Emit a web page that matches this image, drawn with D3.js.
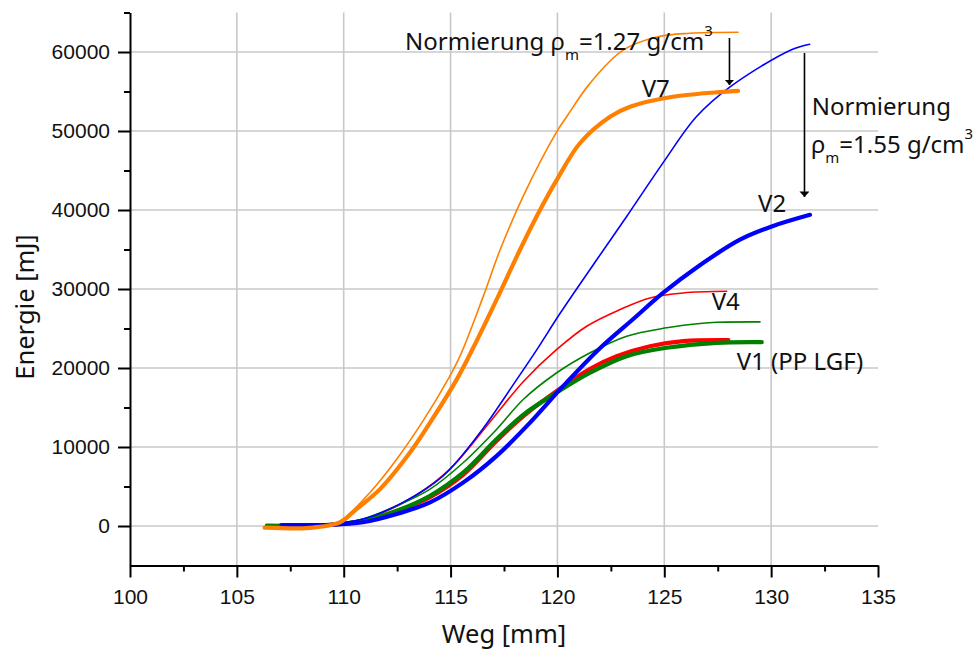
<!DOCTYPE html>
<html>
<head>
<meta charset="utf-8">
<script src="https://cdn.jsdelivr.net/npm/d3@7"></script>
<style>
  html, body { margin: 0; padding: 0; background: #fff; }
  svg { display: block; font-family: "Noto Sans", "Open Sans", sans-serif; }
</style>
</head>
<body>
<svg id="chart" width="978" height="655"></svg>
<script>
// ---- data: [Weg mm, Energie mJ] ----
const v7Norm = [[106.4,-250],[107.5,-300],[108.5,-250],[109.3,100],[109.97,880],[111.23,4250],[112.48,8460],[113.71,13300],[114.88,18560],[115.44,21500],[116.52,29000],[117.31,34900],[118.39,41700],[119.97,49910],[120.43,51800],[121.53,56060],[123.07,60230],[124.65,61900],[126.2,62370],[128.45,62500]];
const v7 = [[106.3,-200],[107.8,-300],[108.56,-200],[109.83,470],[110.6,2150],[111.7,4670],[113.1,9300],[114.04,13090],[115.29,18560],[116.05,22500],[117.31,29540],[118.25,34970],[119.19,40020],[119.97,43810],[121.06,48480],[122.46,51800],[123.4,53070],[125.4,54330],[127.75,54960],[128.45,55090]];
const v2Norm = [[107.1,100],[108.5,120],[109.36,250],[110.9,880],[112.77,2990],[114.65,6350],[116.38,11830],[118.1,18560],[119.03,22300],[120.12,26900],[121.84,33710],[123.24,39180],[124.94,45960],[126.5,51800],[128.08,55590],[130.9,60230],[131.8,60980]];
const v2 = [[107.1,120],[108.5,100],[109.36,126],[110.9,470],[112.48,1520],[114.04,2990],[115.6,5520],[117.16,8880],[118.72,13090],[120.2,17510],[121.99,22500],[123.55,26200],[124.94,29500],[126.5,32700],[128.54,36240],[130.03,37920],[131.82,39390]];
const v4Norm = [[107.0,40],[109.67,250],[111.23,1100],[113.1,3410],[114.97,7200],[116.85,13200],[118.41,18300],[119.97,22350],[121.37,25290],[122.93,27400],[124.33,28870],[125.89,29500],[127.92,29710]];
const v4 = [[107.0,40],[109.36,160],[110.9,640],[112.48,1850],[114.04,3650],[115.6,6500],[117.16,10800],[118.41,13900],[119.97,17100],[121.53,19900],[122.77,21500],[124.33,22760],[125.89,23400],[128.0,23520]];
const v1Norm = [[106.4,40],[109.36,250],[110.9,880],[112.48,2560],[114.04,4670],[115.6,8040],[117.16,12250],[118.41,16040],[119.97,19400],[121.53,21930],[123.24,24030],[125.11,25090],[126.67,25630],[127.45,25790],[129.48,25840]];
const v1 = [[106.4,40],[109.36,160],[110.9,670],[112.48,1930],[114.04,3830],[115.6,6780],[117.16,11000],[118.41,14100],[119.97,16900],[121.53,19400],[123.24,21500],[125.11,22560],[127.45,23190],[129.56,23270]];

const xMajor = [100,105,110,115,120,125,130,135];
const xMinor = [102.5,107.5,112.5,117.5,122.5,127.5,132.5];
const yMajor = [0,10000,20000,30000,40000,50000,60000];
const yMinor = [5000,15000,25000,35000,45000,55000,65000];

const series = [
  {name:"v4Norm", data:v4Norm, color:"#ff0000", w:1.6},
  {name:"v1Norm", data:v1Norm, color:"#008000", w:1.6},
  {name:"v4", data:v4, color:"#ff0000", w:4.2},
  {name:"v1", data:v1, color:"#008000", w:4.2},
  {name:"v2Norm", data:v2Norm, color:"#0000ff", w:1.6},
  {name:"v2", data:v2, color:"#0000ff", w:4.2},
  {name:"v7Norm", data:v7Norm, color:"#ff8000", w:1.6},
  {name:"v7", data:v7, color:"#ff8000", w:4.2}
];

// ---- layout ----
const svg = d3.select("#chart");
const L = 130, R = 878, T = 12.5, B = 565.5;
const x = d3.scaleLinear().domain([100,135]).range([L,R]);
const y = d3.scaleLinear().domain([-5000,65000]).range([B,T]);

// grid
const grid = svg.append("g").attr("stroke","#c8c8c8").attr("stroke-width",1.6);
grid.selectAll("line.v").data(xMajor.filter(d=>d>100 && d<135)).enter().append("line")
  .attr("x1",d=>x(d)).attr("x2",d=>x(d)).attr("y1",T).attr("y2",B);
grid.selectAll("line.h").data(yMajor).enter().append("line")
  .attr("x1",L).attr("x2",R).attr("y1",d=>y(d)).attr("y2",d=>y(d));

// lines
const line = d3.line().x(d=>x(d[0])).y(d=>y(d[1])).curve(d3.curveCatmullRom.alpha(0.5));
svg.append("g").selectAll("path").data(series).enter().append("path")
  .attr("d",d=>line(d.data)).attr("fill","none")
  .attr("stroke",d=>d.color).attr("stroke-width",d=>d.w)
  .attr("stroke-linejoin","round").attr("stroke-linecap","round");

// axes
function styleAxis(g){
  g.select(".domain").attr("stroke","#000").attr("stroke-width",2);
  g.selectAll(".tick line").attr("stroke","#000").attr("stroke-width",2);
  g.selectAll(".tick text").attr("fill","#111").style("font-size","21px");
}
const xAxis = svg.append("g").attr("transform",`translate(0,${B})`)
  .call(d3.axisBottom(x).tickValues(xMajor).tickSize(12).tickPadding(12).tickSizeOuter(0).tickFormat(d3.format("d")));
styleAxis(xAxis);
const xAxisMinor = svg.append("g").attr("transform",`translate(0,${B})`)
  .call(d3.axisBottom(x).tickValues(xMinor).tickSize(6).tickSizeOuter(0).tickFormat(""));
styleAxis(xAxisMinor);
xAxisMinor.select(".domain").remove();

const yAxis = svg.append("g").attr("transform",`translate(${L},0)`)
  .call(d3.axisLeft(y).tickValues(yMajor).tickSize(12).tickPadding(8).tickSizeOuter(0).tickFormat(d3.format("d")));
styleAxis(yAxis);
const yAxisMinor = svg.append("g").attr("transform",`translate(${L},0)`)
  .call(d3.axisLeft(y).tickValues(yMinor).tickSize(6).tickSizeOuter(0).tickFormat(""));
styleAxis(yAxisMinor);
yAxisMinor.select(".domain").remove();

// axis titles
svg.append("text").attr("x",(L+R)/2).attr("y",643).attr("text-anchor","middle")
  .style("font-size","25.5px").attr("fill","#111").text("Weg [mm]");
svg.append("text").attr("transform","translate(34,307) rotate(-90)").attr("text-anchor","middle")
  .style("font-size","25.5px").attr("fill","#111").text("Energie [mJ]");

// arrows
svg.append("defs").append("marker").attr("id","ah").attr("viewBox","0 0 10 10")
  .attr("refX",10).attr("refY",5).attr("markerWidth",5.5).attr("markerHeight",10)
  .attr("markerUnits","userSpaceOnUse").attr("orient","auto")
  .attr("preserveAspectRatio","none")
  .append("path").attr("d","M0,0 L10,5 L0,10 Z").attr("fill","#000");
const arrows = [[128.05,61770,55820],[131.56,59870,41650]];
svg.append("g").selectAll("line").data(arrows).enter().append("line")
  .attr("x1",d=>x(d[0])).attr("x2",d=>x(d[0])).attr("y1",d=>y(d[1])).attr("y2",d=>y(d[2]))
  .attr("stroke","#000").attr("stroke-width",1.6).attr("marker-end","url(#ah)");

// curve labels
const labels = [["V7",123.94,54340],["V2",129.39,39790],["V4",127.22,27340],["V1 (PP LGF)",128.39,19750]];
svg.append("g").selectAll("text").data(labels).enter().append("text")
  .attr("x",d=>x(d[1])).attr("y",d=>y(d[2])).style("font-size","24px").attr("fill","#111").text(d=>d[0]);

// normalisation notes
const n1 = svg.append("text").attr("x",x(112.87)).attr("y",y(60250)).style("font-size","24px").attr("fill","#111");
n1.append("tspan").text("Normierung ρ");
n1.append("tspan").attr("dy",10).style("font-size","15px").text("m");
n1.append("tspan").attr("dy",-10).text("=1.27 g/cm");
n1.append("tspan").attr("dy",-14).style("font-size","15px").text("3");

const n2 = svg.append("text").attr("x",x(131.9)).attr("y",y(52030)).style("font-size","24px").attr("fill","#111").text("Normierung");
const n3 = svg.append("text").attr("x",x(131.86)).attr("y",y(47220)).style("font-size","24px").attr("fill","#111");
n3.append("tspan").text("ρ");
n3.append("tspan").attr("dy",10).style("font-size","15px").text("m");
n3.append("tspan").attr("dy",-10).text("=1.55 g/cm");
n3.append("tspan").attr("dy",-14).style("font-size","15px").text("3");
</script>
</body>
</html>
